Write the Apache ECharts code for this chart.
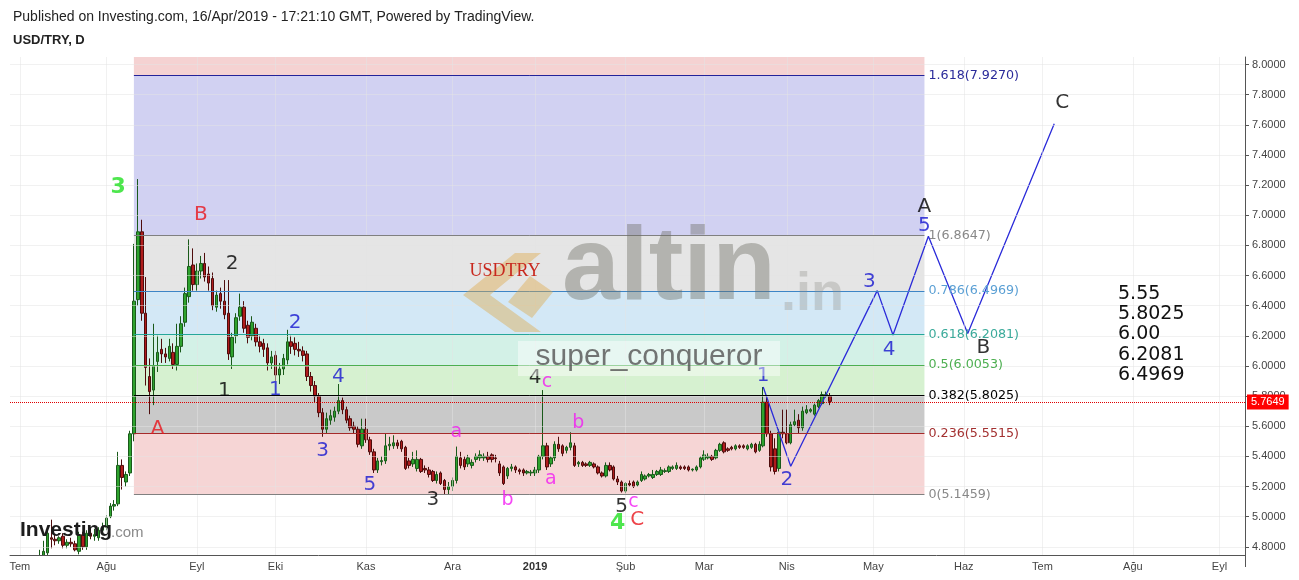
<!DOCTYPE html>
<html><head><meta charset="utf-8">
<script src="https://cdn.jsdelivr.net/npm/echarts@6/dist/echarts.min.js"></script>
<style>html,body{margin:0;padding:0;background:#fff}#c{width:1299px;height:580px}</style>
</head><body><div id="c"></div>
<script>
// ---------------- data ----------------
const firstDay = '2018-06-28', lastDay = '2019-09-10';
const monthNames = ['Oca','Şub','Mar','Nis','May','Haz','Tem','Ağu','Eyl','Eki','Kas','Ara'];
const yTicks = [4.8,5.0,5.2,5.4,5.6,5.8,6.0,6.2,6.4,6.6,6.8,7.0,7.2,7.4,7.6,7.8,8.0];
const yMin = 4.7456, yMax = 8.05;

// daily candles [open, close, low, high]
const jun2018 = [[4.64,4.62,4.58,4.67],[4.62,4.57,4.55,4.64]];
const jul2018 = [[4.57,4.63,4.55,4.66],[4.63,4.57,4.55,4.64],[4.57,4.55,4.53,4.59],[4.55,4.56,4.53,4.59],[4.56,4.61,4.55,4.64],
 [4.61,4.70,4.60,4.78],[4.70,4.77,4.68,4.84],[4.76,4.89,4.74,4.93],[4.86,4.85,4.79,4.98],[4.85,4.84,4.81,4.88],
 [4.84,4.86,4.82,4.87],[4.87,4.81,4.79,4.89],[4.81,4.83,4.79,4.85],[4.83,4.82,4.80,4.86],[4.82,4.78,4.77,4.84],
 [4.77,4.88,4.75,4.90],[4.88,4.80,4.78,4.90],[4.80,4.89,4.78,4.91],[4.89,4.87,4.85,4.93],[4.87,4.88,4.84,4.92],
 [4.86,4.91,4.84,4.93],[4.91,4.93,4.89,4.96]];
const aug2018 = [[4.93,4.99,4.91,5.01],[5.00,5.07,4.99,5.09],[5.07,5.08,5.04,5.11],[5.085,5.34,5.07,5.43],[5.34,5.26,5.18,5.38],
 [5.23,5.28,5.20,5.30],[5.29,5.55,5.27,5.57],[5.55,6.43,5.50,6.81],[6.44,6.89,6.40,7.24],[6.89,6.35,6.30,6.97],
 [6.35,5.99,5.87,6.59],[5.93,5.83,5.68,6.05],[5.84,6.00,5.74,6.28],[6.03,6.09,5.96,6.20],[6.11,6.08,6.02,6.18],
 [6.08,6.06,6.02,6.12],[6.05,6.13,6.03,6.18],[6.09,6.01,5.98,6.15],[6.01,6.13,5.97,6.28],[6.13,6.28,6.09,6.33],
 [6.29,6.48,6.26,6.52],[6.46,6.66,6.42,6.84],[6.67,6.54,6.50,6.78]];
const sep2018 = [[6.54,6.63,6.50,6.68],[6.63,6.68,6.58,6.73],[6.68,6.59,6.56,6.75],[6.61,6.55,6.50,6.66],[6.58,6.40,6.37,6.62],
 [6.39,6.47,6.36,6.50],[6.48,6.43,6.38,6.52],[6.43,6.34,6.31,6.57],[6.35,6.08,6.04,6.57],[6.06,6.19,5.98,6.22],
 [6.20,6.32,6.15,6.35],[6.33,6.39,6.30,6.48],[6.39,6.25,6.22,6.43],[6.27,6.19,6.15,6.30],[6.20,6.29,6.17,6.33],
 [6.25,6.16,6.13,6.28],[6.16,6.13,6.09,6.20],[6.15,6.11,6.06,6.18],[6.12,6.02,5.97,6.15],[6.02,6.06,5.98,6.10]];
const oct2018 = [[6.07,5.94,5.90,6.10],[5.94,5.98,5.88,6.02],[5.98,6.05,5.94,6.08],[6.04,6.16,6.01,6.24],[6.16,6.13,6.08,6.20],
 [6.15,6.11,6.07,6.19],[6.11,6.10,6.06,6.16],[6.10,6.07,6.03,6.13],[6.08,5.93,5.90,6.10],[5.93,5.87,5.83,5.96],
 [5.87,5.80,5.76,5.90],[5.80,5.69,5.66,5.82],[5.69,5.58,5.53,5.72],[5.58,5.65,5.55,5.69],[5.64,5.67,5.61,5.71],
 [5.66,5.70,5.63,5.73],[5.70,5.77,5.68,5.88],[5.77,5.71,5.68,5.79],[5.71,5.64,5.62,5.73],[5.65,5.59,5.57,5.67],
 [5.60,5.58,5.55,5.63],[5.58,5.48,5.46,5.60],[5.47,5.58,5.45,5.65]];
const nov2018 = [[5.58,5.51,5.49,5.65],[5.51,5.43,5.41,5.53],[5.43,5.31,5.29,5.45],[5.31,5.37,5.29,5.39],[5.365,5.372,5.34,5.40],
 [5.37,5.47,5.35,5.55],[5.47,5.48,5.44,5.53],[5.47,5.49,5.45,5.54],[5.49,5.47,5.45,5.51],[5.50,5.45,5.43,5.51],
 [5.46,5.32,5.31,5.47],[5.37,5.34,5.32,5.39],[5.35,5.38,5.33,5.43],[5.32,5.38,5.30,5.44],[5.38,5.30,5.29,5.39],
 [5.32,5.31,5.29,5.34],[5.31,5.28,5.26,5.33],[5.30,5.24,5.23,5.31],[5.24,5.28,5.22,5.30],[5.29,5.22,5.21,5.30],
 [5.24,5.18,5.146,5.25],[5.18,5.20,5.15,5.23]];
const dec2018 = [[5.20,5.24,5.17,5.26],[5.24,5.40,5.22,5.465],[5.39,5.34,5.32,5.43],[5.38,5.33,5.31,5.40],[5.35,5.39,5.33,5.41],
 [5.34,5.36,5.32,5.38],[5.38,5.40,5.36,5.42],[5.39,5.41,5.37,5.44],[5.39,5.40,5.37,5.42],[5.40,5.38,5.36,5.43],
 [5.41,5.38,5.36,5.42],[5.39,5.385,5.36,5.41],[5.35,5.29,5.27,5.37],[5.33,5.22,5.21,5.34],[5.27,5.32,5.25,5.33],
 [5.32,5.33,5.30,5.35],[5.33,5.31,5.29,5.34],[5.31,5.30,5.28,5.32],[5.31,5.29,5.27,5.32],[5.29,5.30,5.28,5.31],
 [5.29,5.295,5.27,5.31]];
const jan2019 = [[5.29,5.31,5.27,5.33],[5.31,5.40,5.29,5.41],[5.40,5.47,5.38,5.84],[5.47,5.33,5.31,5.49],[5.35,5.39,5.33,5.40],
 [5.39,5.48,5.37,5.50],[5.48,5.45,5.43,5.53],[5.47,5.42,5.40,5.48],[5.44,5.46,5.42,5.47],[5.46,5.49,5.44,5.56],
 [5.47,5.34,5.33,5.49],[5.35,5.36,5.33,5.37],[5.36,5.34,5.33,5.37],[5.35,5.34,5.33,5.36],[5.34,5.36,5.33,5.37],
 [5.35,5.33,5.32,5.36],[5.33,5.29,5.28,5.34],[5.29,5.27,5.26,5.30],[5.27,5.34,5.26,5.36],[5.34,5.31,5.30,5.36],
 [5.33,5.25,5.24,5.34],[5.25,5.23,5.21,5.27],[5.23,5.17,5.16,5.24]];
const feb2019 = [[5.17,5.22,5.155,5.23],[5.22,5.21,5.20,5.24],[5.23,5.20,5.19,5.24],[5.21,5.23,5.20,5.24],[5.24,5.28,5.23,5.30],
 [5.25,5.27,5.24,5.28],[5.27,5.28,5.26,5.29],[5.26,5.28,5.25,5.31],[5.28,5.30,5.27,5.31],[5.28,5.31,5.27,5.33],
 [5.30,5.305,5.29,5.32],[5.30,5.33,5.29,5.34],[5.32,5.33,5.31,5.34],[5.32,5.34,5.31,5.36],[5.33,5.32,5.31,5.34],
 [5.33,5.32,5.31,5.34],[5.33,5.31,5.30,5.34],[5.31,5.315,5.30,5.32],[5.31,5.33,5.30,5.34],[5.33,5.39,5.32,5.40]];
const mar2019 = [[5.38,5.41,5.37,5.44],[5.39,5.40,5.38,5.42],[5.40,5.38,5.37,5.41],[5.39,5.44,5.38,5.45],[5.44,5.48,5.43,5.49],
 [5.49,5.43,5.42,5.50],[5.45,5.44,5.43,5.46],[5.46,5.45,5.44,5.47],[5.45,5.47,5.44,5.48],[5.47,5.46,5.45,5.48],
 [5.47,5.46,5.45,5.48],[5.45,5.47,5.44,5.48],[5.46,5.48,5.45,5.49],[5.48,5.43,5.42,5.49],[5.44,5.48,5.43,5.50],
 [5.47,5.76,5.46,5.86],[5.76,5.55,5.53,5.79],[5.55,5.33,5.30,5.57],[5.45,5.30,5.28,5.52],[5.32,5.56,5.30,5.58],
 [5.56,5.55,5.52,5.71]];
const apr2019 = [[5.55,5.49,5.48,5.71],[5.49,5.61,5.48,5.63],[5.61,5.63,5.60,5.71],[5.64,5.59,5.55,5.68],[5.59,5.70,5.57,5.73],
 [5.69,5.71,5.68,5.74],[5.70,5.71,5.69,5.72],[5.68,5.74,5.67,5.75],[5.73,5.77,5.72,5.78],[5.75,5.81,5.74,5.83],
 [5.80,5.81,5.79,5.83],[5.80,5.7649,5.74,5.82]];
const lastPrice = 5.7649;

// Fibonacci retracement
const fibRatios = [0, 0.236, 0.382, 0.5, 0.618, 0.786, 1, 1.618];
const fibPrices = [5.1459, 5.5515, 5.8025, 6.0053, 6.2081, 6.4969, 6.8647, 7.9270];
const fibStart = '2018-08-10', fibEnd = '2019-05-20';

// projected path
const projDates  = ['2019-03-22','2019-04-02','2019-05-02','2019-05-08','2019-05-21','2019-06-04','2019-07-04'];
const projPrices = [5.86, 5.335, 6.50, 6.205, 6.86, 6.216, 7.607];

// wave labels: [text, date, price, degree]
const waveLabels = [
 ['3','2018-08-06',7.185,'cycle'], ['4','2019-01-30',4.953,'cycle'],
 ['B','2018-09-04',7.006,'primary'], ['A','2018-08-20',5.582,'primary'], ['C','2019-02-06',4.979,'primary'],
 ['2','2018-09-14',6.68,'black'], ['1','2018-09-12',5.833,'black'], ['3','2018-11-26',5.111,'black'],
 ['4','2019-01-01',5.92,'black'], ['5','2019-01-31',5.065,'black'],
 ['1','2018-10-01',5.84,'blue'], ['2','2018-10-08',6.284,'blue'], ['3','2018-10-17',5.436,'blue'],
 ['4','2018-10-23',5.926,'blue'], ['5','2018-11-02',5.211,'blue'],
 ['a','2018-12-04',5.562,'sub'], ['b','2018-12-21',5.111,'sub'], ['c','2019-01-04',5.893,'sub'],
 ['a','2019-01-07',5.25,'sub'], ['b','2019-01-16',5.62,'sub'], ['c','2019-02-05',5.098,'sub'],
 ['1','2019-03-22',5.933,'blue'], ['2','2019-04-01',5.244,'blue'], ['3','2019-04-30',6.556,'blue'],
 ['4','2019-05-07',6.105,'blue'], ['5','2019-05-20',6.933,'blue'],
 ['A','2019-05-20',7.059,'proj'], ['B','2019-06-10',6.118,'proj'], ['C','2019-07-08',7.748,'proj']
];
const sideNotes = ['5.55','5.8025','6.00','6.2081','6.4969'];

// ---------------- build ----------------
function weekdays(a, b) {
  const out = []; const d = new Date(a + 'T00:00:00Z'); const e = new Date(b + 'T00:00:00Z');
  while (d <= e) { const w = d.getUTCDay(); if (w !== 0 && w !== 6) out.push(d.toISOString().slice(0, 10)); d.setUTCDate(d.getUTCDate() + 1); }
  return out;
}
const cats = weekdays(firstDay, lastDay);
const monthStart = cats.map((c, i) => i > 0 && c.slice(5, 7) !== cats[i - 1].slice(5, 7));
const isTick = (i) => !!monthStart[i];
const monthCats = cats.filter((c, i) => monthStart[i]);
const candles = [].concat(jun2018, jul2018, aug2018, sep2018, oct2018, nov2018, dec2018, jan2019, feb2019, mar2019, apr2019);

const bandColors = ['rgb(246,213,213)','rgb(201,201,201)','rgb(214,241,208)','rgb(211,241,231)','rgb(211,232,246)','rgb(229,229,229)','rgb(209,209,242)','rgb(245,210,210)'];
const fibLineColors = ['#808080','#a52a2a','#000000','#4caf50','#26a69a','#3d85c6','#808080','#23239a'];
const fibTextColors = ['#888888','#a33030','#000000','#4caf50','#3aaa9a','#5a9fd4','#888888','#2a2a9a'];
const waveStyles = {
  cycle:   {color:'#22e022', fontSize:22, fontWeight:'bold'},
  primary: {color:'#e8141c', fontSize:20},
  black:   {color:'#000000', fontSize:20},
  blue:    {color:'#1515d0', fontSize:20},
  sub:     {color:'#f21af2', fontSize:19},
  proj:    {color:'#000000', fontSize:20}
};

const bandAreas = fibPrices.map((p, k) => {
  const hi = k < fibPrices.length - 1 ? fibPrices[k + 1] : yMax;
  return [{xAxis: fibStart, yAxis: p, itemStyle: {color: bandColors[k]}}, {xAxis: fibEnd, yAxis: hi}];
});
const fibLines = fibPrices.map((p, k) => [
  {coord: [fibStart, p], lineStyle: {color: fibLineColors[k], width: 1, type: 'solid'},
   label: {show: true, position: 'end', formatter: fibRatios[k] + '(' + p.toFixed(4) + ')', color: fibTextColors[k],
           fontSize: 12.7, fontFamily: 'DejaVu Sans', distance: 4}},
  {coord: [fibEnd, p]}
]);

const chart = echarts.init(document.getElementById('c'), null, {renderer: 'canvas'});
const FONT = '"Liberation Sans", Arial, sans-serif';
chart.setOption({
  animation: false,
  backgroundColor: '#ffffff',
  grid: {left: 10, right: 54, top: 57, bottom: 25, containLabel: false, outerBoundsMode: 'none'},
  xAxis: {
    type: 'category', data: cats, boundaryGap: true, z: 30,
    axisLine: {lineStyle: {color: '#555'}},
    axisTick: {alignWithLabel: true, interval: (i) => isTick(i), length: 4, lineStyle: {color: '#555'}},
    axisLabel: {interval: (i) => isTick(i), color: '#444', fontSize: 11, fontFamily: FONT, margin: 6,
      formatter: (v) => { const m = +v.slice(5, 7); return m === 1 ? '{b|' + v.slice(0, 4) + '}' : monthNames[m - 1]; },
      rich: {b: {fontWeight: 'bold', fontSize: 11, color: '#333', fontFamily: FONT}}},
    splitLine: {show: false}
  },
  yAxis: {
    type: 'value', position: 'right', min: yMin, max: yMax, scale: true,
    axisLine: {show: true, lineStyle: {color: '#555'}},
    axisTick: {show: true, customValues: yTicks, length: 4, lineStyle: {color: '#555'}},
    axisLabel: {customValues: yTicks, formatter: (v) => v.toFixed(4), color: '#444', fontSize: 11, fontFamily: FONT, margin: 7},
    splitLine: {show: false}
  },
  series: [
    { // grid lines
      type: 'line', z: 0, silent: true, data: [[cats[0], null]], symbol: 'none',
      markLine: {silent: true, symbol: 'none', label: {show: false}, animation: false,
        lineStyle: {color: 'rgba(228,228,228,0.5)', width: 1, type: 'solid'},
        data: yTicks.map(v => ({yAxis: v})).concat(monthCats.map(c => ({xAxis: c})))}
    },
    { // fibonacci bands and levels
      type: 'line', z: 1, silent: true, data: [[fibStart, null]], symbol: 'none',
      markArea: {silent: true, animation: false, data: bandAreas},
      markLine: {silent: true, symbol: 'none', animation: false, data: fibLines}
    },
    {
      type: 'candlestick', name: 'USD/TRY', z: 3, clip: true, data: candles, barWidth: 3,
      itemStyle: {color: '#2ea32e', color0: '#b01c1c', borderColor: '#1a5a1a', borderColor0: '#4e0c0c', borderWidth: 1},
      markLine: {silent: true, symbol: 'none', animation: false,
        data: [{yAxis: lastPrice, lineStyle: {color: '#e00000', type: 'dotted', width: 1},
          label: {show: true, position: 'end', formatter: lastPrice.toFixed(4), color: '#ffffff', backgroundColor: '#ff0000',
                  padding: [2, 4, 2, 4], fontSize: 11, fontFamily: FONT, distance: 2}}]}
    },
    {
      type: 'line', name: 'projection', z: 4, data: projDates.map((d, k) => [d, projPrices[k]]),
      symbol: 'none', lineStyle: {color: '#2b2bd9', width: 1.3}
    },
    {
      type: 'scatter', z: 6, symbolSize: 1, itemStyle: {color: 'rgba(0,0,0,0)'}, silent: true,
      data: waveLabels.map(w => ({value: [w[1], w[2]],
        label: Object.assign({show: true, position: 'inside', formatter: w[0], fontFamily: 'DejaVu Sans'}, waveStyles[w[3]])}))
    }
  ],
  graphic: [
    // mask below the plot so candles do not spill under the time axis
    {type: 'rect', z: 25, silent: true, shape: {x: 0, y: 555.5, width: 1245, height: 25}, style: {fill: '#ffffff'}},
    {type: 'line', z: 31, silent: true, shape: {x1: 1245.5, y1: 555, x2: 1245.5, y2: 567}, style: {stroke: '#555', lineWidth: 1}},
    {type: 'text', x: 13, y: 17, z: 20, style: {text: 'Published on Investing.com, 16/Apr/2019 - 17:21:10 GMT, Powered by TradingView.', fill: '#222', fontSize: 14, fontFamily: FONT, verticalAlign: 'middle'}},
    {type: 'text', x: 13, y: 40, z: 20, style: {text: 'USD/TRY, D', fill: '#222', fontSize: 13, fontWeight: 'bold', fontFamily: FONT, verticalAlign: 'middle'}},
    // altin.in watermark
    {type: 'polygon', z: 20, silent: true, shape: {points: [[515,253],[541,253],[490,295],[541,332],[515,332],[463,295]]}, style: {fill: 'rgba(222,168,70,0.42)'}},
    {type: 'polygon', z: 20, silent: true, shape: {points: [[530,276],[553,292],[532,318],[508,302]]}, style: {fill: 'rgba(222,168,70,0.42)'}},
    {type: 'text', x: 562, y: 322, z: 20, silent: true, style: {text: 'altin', fill: 'rgba(105,105,95,0.40)', fontSize: 104, fontWeight: 'bold', fontFamily: FONT, verticalAlign: 'bottom'}},
    {type: 'text', x: 781, y: 322, z: 20, silent: true, style: {text: '.in', fill: 'rgba(140,140,135,0.32)', fontSize: 54, fontWeight: 'bold', fontFamily: FONT, verticalAlign: 'bottom'}},
    {type: 'text', x: 505, y: 271, z: 21, silent: true, style: {text: 'USDTRY', fill: '#c8281e', fontSize: 18, fontFamily: '"Liberation Serif", serif', align: 'center', verticalAlign: 'middle'}},
    {type: 'rect', z: 20, silent: true, shape: {x: 518, y: 341, width: 262, height: 35}, style: {fill: 'rgba(255,255,255,0.45)'}},
    {type: 'text', x: 649, y: 357, z: 21, silent: true, style: {text: 'super_conqueror', fill: 'rgba(80,80,80,0.78)', fontSize: 30, fontFamily: FONT, align: 'center', verticalAlign: 'middle'}},
    // investing.com logo
    {type: 'text', x: 20, y: 541, z: 21, silent: true, style: {text: 'Investing', fill: '#1c1c1c', fontSize: 21, fontWeight: 'bold', fontFamily: FONT, verticalAlign: 'bottom'}},
    {type: 'text', x: 111, y: 540, z: 21, silent: true, style: {text: '.com', fill: '#8a8a8a', fontSize: 15, fontFamily: FONT, verticalAlign: 'bottom'}}
  ].concat(sideNotes.map((t, k) => ({type: 'text', x: 1118, y: 294 + k * 20.2, z: 20,
    style: {text: t, fill: '#111', fontSize: 19, fontFamily: 'DejaVu Sans', verticalAlign: 'middle'}})))
});
</script>
</body></html>
